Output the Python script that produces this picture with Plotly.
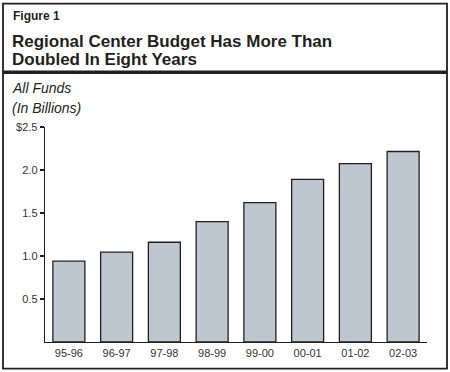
import plotly.graph_objects as go

categories = ["95-96", "96-97", "97-98", "98-99", "99-00", "00-01", "01-02", "02-03"]
values = [0.94, 1.045, 1.16, 1.40, 1.62, 1.89, 2.075, 2.215]
ytick_vals = [0.5, 1.0, 1.5, 2.0, 2.5]
ytick_text = ["0.5", "1.0", "1.5", "2.0", "$2.5"]

W, H = 450, 372
L, R = 45, 427
T, B = 126.7, 342.3

def px(x):
    return (x - L) / (R - L)

def py(y):
    return (B - y) / (B - T)

fig = go.Figure(go.Bar(
    x=categories, y=values,
    marker=dict(color="#BEC6D0", line=dict(color="#231F20", width=1.3)),
    width=0.67,
    hoverinfo="skip",
))

ink = "#231F20"
fig.update_layout(
    width=W, height=H,
    margin=dict(l=L, r=W - R, t=T, b=H - B, pad=0, autoexpand=False),
    paper_bgcolor="white", plot_bgcolor="white",
    showlegend=False,
    font=dict(family="Liberation Sans, Arial, sans-serif", color=ink),
    xaxis=dict(type="category", range=[-0.5, 7.5], showgrid=False, showline=True,
               linecolor=ink, linewidth=1.3, ticks="", automargin=False,
               tickfont=dict(size=11, color="#333333"), fixedrange=True),
    yaxis=dict(range=[0, 2.5], showgrid=False, showline=True, linecolor=ink,
               linewidth=1.3, ticks="outside", ticklen=4, tickwidth=1.2,
               tickcolor=ink, tickvals=ytick_vals, ticktext=ytick_text,
               tickfont=dict(size=11, color="#333333"), zeroline=False,
               automargin=False, fixedrange=True),
    shapes=[
        dict(type="rect", xref="paper", yref="paper",
             x0=px(3), x1=px(447), y0=py(369), y1=py(3),
             line=dict(color=ink, width=1.8)),
        dict(type="line", xref="paper", yref="paper",
             x0=px(3), x1=px(447), y0=py(71.7), y1=py(71.7),
             line=dict(color=ink, width=3.5)),
    ],
    annotations=[
        dict(text="<b>Figure 1</b>", xref="paper", yref="paper",
             x=px(11), y=py(15.5), xanchor="left", yanchor="middle",
             showarrow=False, font=dict(size=12, color=ink)),
        dict(text="<b>Regional Center Budget Has More Than</b>", xref="paper", yref="paper",
             x=px(10), y=py(40.5), xanchor="left", yanchor="middle",
             showarrow=False, font=dict(size=17, color=ink)),
        dict(text="<b>Doubled In Eight Years</b>", xref="paper", yref="paper",
             x=px(10), y=py(59.5), xanchor="left", yanchor="middle",
             showarrow=False, font=dict(size=17, color=ink)),
        dict(text="<i>All Funds</i>", xref="paper", yref="paper",
             x=px(10), y=py(87.5), xanchor="left", yanchor="middle",
             showarrow=False, font=dict(size=14, color=ink)),
        dict(text="<i>(In Billions)</i>", xref="paper", yref="paper",
             x=px(10), y=py(107.5), xanchor="left", yanchor="middle",
             showarrow=False, font=dict(size=14, color=ink)),
    ],
)

fig.write_html(
    "out.html",
    config={"displayModeBar": False, "staticPlot": True},
    post_script="document.body.style.margin='0';document.body.style.overflow='hidden';",
)
